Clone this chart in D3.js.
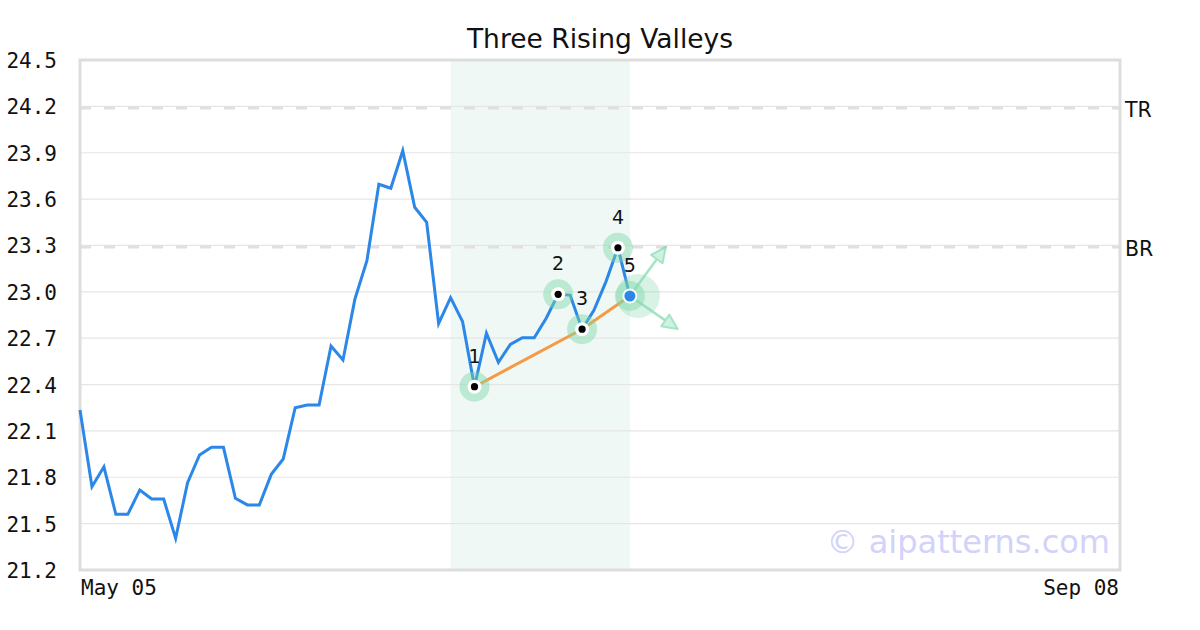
<!DOCTYPE html>
<html>
<head>
<meta charset="utf-8">
<script src="https://cdn.jsdelivr.net/npm/d3@7"></script>
<style>
  html, body { margin: 0; padding: 0; background: #fff; }
  svg { display: block; }
</style>
</head>
<body>
<svg id="chart" width="1200" height="630"></svg>
<script>
// ---- data ----
const title = "Three Rising Valleys";
const xTickIndex = [0, 87];
const xTickLabels = ["May 05", "Sep 08"];
const yTicks = [21.2, 21.5, 21.8, 22.1, 22.4, 22.7, 23.0, 23.3, 23.6, 23.9, 24.2, 24.5];
const prices = [
  22.235, 21.739, 21.868, 21.560, 21.560, 21.718, 21.659, 21.659, 21.405, 21.765,
  21.944, 21.994, 21.994, 21.664, 21.621, 21.621, 21.819, 21.918, 22.250, 22.268,
  22.268, 22.649, 22.559, 22.954, 23.201, 23.696, 23.670, 23.913, 23.547, 23.450,
  22.795, 22.962, 22.808, 22.386, 22.732, 22.544, 22.660, 22.703, 22.703, 22.829,
  22.984, 22.979, 22.758, 22.882, 23.066, 23.285, 22.973
];
const levelValues = [24.19, 23.29];
const levelLabels = ["TR", "BR"];
const patternIdx = [33, 40, 42, 45, 46];
const patternLabels = ["1", "2", "3", "4", "5"];
const trendIdx = [33, 42, 46];
const shadeRange = [31, 46];
const arrowTargetsIdx = [49, 50];
const arrowTargetsVal = [23.29, 22.76];
const watermark = "\u00A9 aipatterns.com";

// ---- layout ----
const svg = d3.select("#chart");
const L = 80, R = 1120, T = 60, B = 570;
const x = d3.scaleLinear().domain([0, 87]).range([L, R]);
const y = d3.scaleLinear().domain([21.2, 24.5]).range([B, T]);

// shaded region
svg.append("rect")
  .attr("x", x(shadeRange[0])).attr("y", T)
  .attr("width", x(shadeRange[1]) - x(shadeRange[0])).attr("height", B - T)
  .attr("fill", "#eff8f4");

// grid
svg.append("g").selectAll("line").data(yTicks).join("line")
  .attr("x1", L).attr("x2", R)
  .attr("y1", d => y(d)).attr("y2", d => y(d))
  .attr("stroke", "#e6e6e6").attr("stroke-width", 1.2);

// level lines
svg.append("g").selectAll("line").data(levelValues).join("line")
  .attr("x1", L).attr("x2", R)
  .attr("y1", d => y(d)).attr("y2", d => y(d))
  .attr("stroke", "#e0e0e0").attr("stroke-width", 3)
  .attr("stroke-dasharray", "11,13");
svg.append("g").selectAll("text").data(levelValues).join("text")
  .attr("x", R + 5).attr("y", d => y(d) + 3)
  .attr("dominant-baseline", "middle")
  .attr("font-family", "DejaVu Sans").attr("font-size", 20.5)
  .attr("fill", "#111")
  .text((d, i) => levelLabels[i]);

// frame
svg.append("rect")
  .attr("x", L).attr("y", T).attr("width", R - L).attr("height", B - T)
  .attr("fill", "none").attr("stroke", "#dddddd").attr("stroke-width", 3);

// y axis labels
svg.append("g").selectAll("text").data(yTicks).join("text")
  .attr("x", 57).attr("y", d => y(d) + 2)
  .attr("text-anchor", "end").attr("dominant-baseline", "middle")
  .attr("font-family", "DejaVu Sans Mono").attr("font-size", 21)
  .attr("fill", "#111")
  .text(d => d3.format(".1f")(d));

// x axis labels
svg.append("g").selectAll("text").data(xTickIndex).join("text")
  .attr("x", (d, i) => i === 0 ? x(d) + 1 : x(d) - 1)
  .attr("y", 595)
  .attr("text-anchor", (d, i) => i === 0 ? "start" : "end")
  .attr("font-family", "DejaVu Sans Mono").attr("font-size", 21)
  .attr("fill", "#111")
  .text((d, i) => xTickLabels[i]);

// title
svg.append("text")
  .attr("x", 600).attr("y", 48).attr("text-anchor", "middle")
  .attr("font-family", "DejaVu Sans").attr("font-size", 26.5)
  .attr("fill", "#111").text(title);

// watermark
svg.append("text")
  .attr("x", 1110).attr("y", 553).attr("text-anchor", "end")
  .attr("font-family", "DejaVu Sans").attr("font-size", 32)
  .attr("fill", "#d2d2fb").text(watermark);

// price line
const line = d3.line().x((d, i) => x(i)).y(d => y(d));
svg.append("path").datum(prices)
  .attr("d", line).attr("fill", "none")
  .attr("stroke", "#2b87e8").attr("stroke-width", 3)
  .attr("stroke-linejoin", "miter");

// trend line
svg.append("path").datum(trendIdx)
  .attr("d", d3.line().x(d => x(d)).y(d => y(prices[d])))
  .attr("fill", "none").attr("stroke", "#f59b45").attr("stroke-width", 3);

// arrows from point 5
const last = patternIdx[patternIdx.length - 1];
const ox = x(last), oy = y(prices[last]);
const arrowG = svg.append("g").attr("opacity", 0.55);
arrowTargetsIdx.forEach((ti, k) => {
  const tx = x(ti), ty = y(arrowTargetsVal[k]);
  const ang = Math.atan2(ty - oy, tx - ox);
  const len = 15, half = 7;
  const bx = tx - len * Math.cos(ang), by = ty - len * Math.sin(ang);
  arrowG.append("line").attr("x1", ox).attr("y1", oy).attr("x2", bx).attr("y2", by)
    .attr("stroke", "#5ccf95").attr("stroke-width", 2.5);
  const p1 = [bx + half * Math.sin(ang), by - half * Math.cos(ang)];
  const p2 = [bx - half * Math.sin(ang), by + half * Math.cos(ang)];
  arrowG.append("polygon")
    .attr("points", [[tx, ty], p1, p2].map(p => p.join(",")).join(" "))
    .attr("fill", "#a9e8c8").attr("stroke", "#5ccf95").attr("stroke-width", 2)
    .attr("stroke-linejoin", "round");
});

// big halo on point 5
svg.append("circle").attr("cx", ox + 8).attr("cy", oy).attr("r", 22)
  .attr("fill", "#7fd6a8").attr("opacity", 0.3);

// pattern markers
const pg = svg.append("g");
patternIdx.forEach((pi, k) => {
  const cx = x(pi), cy = y(prices[pi]);
  pg.append("circle").attr("cx", cx).attr("cy", cy).attr("r", 15)
    .attr("fill", "#7fd6a8").attr("opacity", 0.45);
  if (k < patternIdx.length - 1) {
    pg.append("circle").attr("cx", cx).attr("cy", cy).attr("r", 7).attr("fill", "#fff");
    pg.append("circle").attr("cx", cx).attr("cy", cy).attr("r", 3.6).attr("fill", "#000");
  } else {
    pg.append("circle").attr("cx", cx).attr("cy", cy).attr("r", 6.5)
      .attr("fill", "#2b87e8").attr("stroke", "#fff").attr("stroke-width", 2);
  }
  pg.append("text").attr("x", cx).attr("y", cy - 24)
    .attr("text-anchor", "middle")
    .attr("font-family", "DejaVu Sans").attr("font-size", 19)
    .attr("fill", "#111").text(patternLabels[k]);
});
</script>
</body>
</html>
